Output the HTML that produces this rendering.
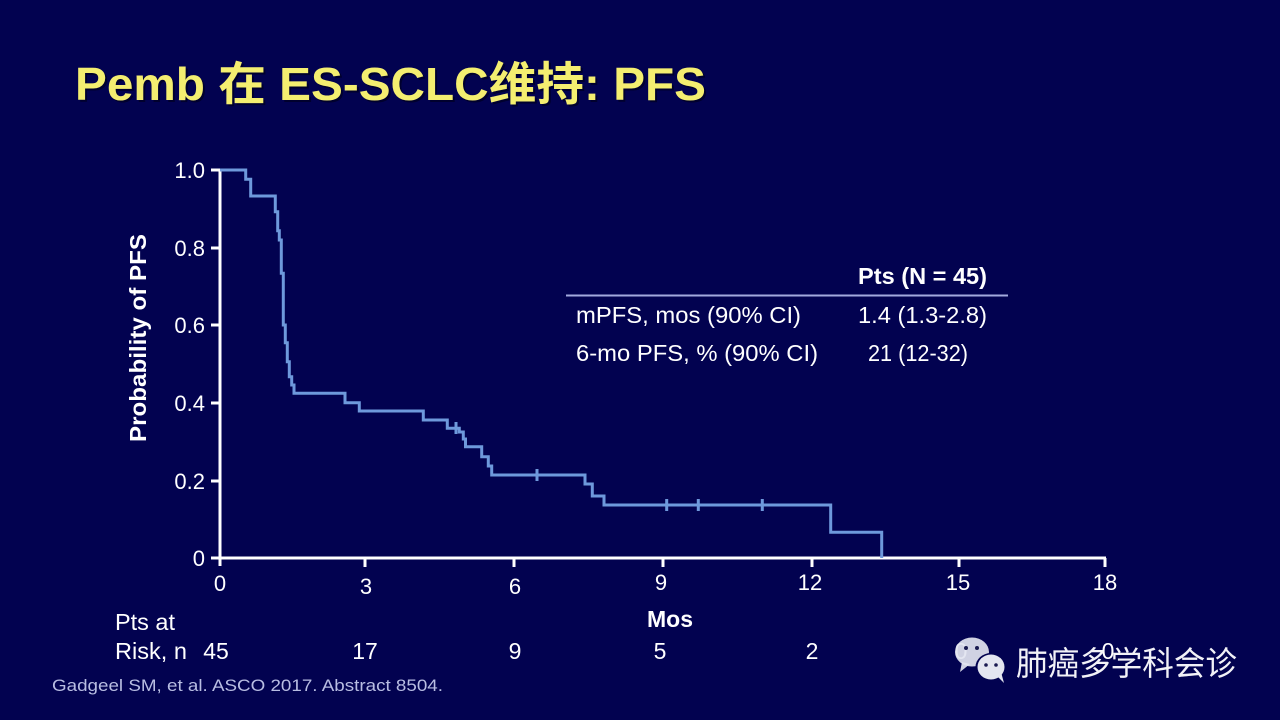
<!DOCTYPE html>
<html>
<head>
<meta charset="utf-8">
<style>
  html, body { margin:0; padding:0; background:#020250; }
  body { width:1280px; height:720px; overflow:hidden; }
  svg { display:block; }
  text { font-family: "Liberation Sans", "Noto Sans CJK SC", sans-serif; }
</style>
</head>
<body>
<svg width="1280" height="720" viewBox="0 0 1280 720" xmlns="http://www.w3.org/2000/svg">
  <rect x="0" y="0" width="1280" height="720" fill="#020250"/>

  <!-- Title -->
  <text x="77" y="102" font-size="46" font-weight="bold" fill="#000018" opacity="0.6" textLength="631" lengthAdjust="spacingAndGlyphs">Pemb 在 ES-SCLC维持: PFS</text>
  <text x="75" y="100" font-size="46" font-weight="bold" fill="#f4ee70" textLength="631" lengthAdjust="spacingAndGlyphs">Pemb 在 ES-SCLC维持: PFS</text>

  <!-- Y axis label -->
  <text transform="translate(146,442) rotate(-90)" font-size="23" font-weight="bold" fill="#ffffff" textLength="208" lengthAdjust="spacingAndGlyphs">Probability of PFS</text>

  <!-- Axes -->
  <g stroke="#ffffff" stroke-width="3" fill="none">
    <line x1="220" y1="169" x2="220" y2="566"/>
    <line x1="219" y1="558" x2="1106" y2="558"/>
    <line x1="211" y1="170" x2="220" y2="170"/>
    <line x1="211" y1="248" x2="220" y2="248"/>
    <line x1="211" y1="325" x2="220" y2="325"/>
    <line x1="211" y1="403" x2="220" y2="403"/>
    <line x1="211" y1="481" x2="220" y2="481"/>
    <line x1="211" y1="558" x2="220" y2="558"/>
    <line x1="365" y1="558" x2="365" y2="567"/>
    <line x1="514" y1="558" x2="514" y2="567"/>
    <line x1="663" y1="558" x2="663" y2="567"/>
    <line x1="812" y1="558" x2="812" y2="567"/>
    <line x1="959" y1="558" x2="959" y2="567"/>
    <line x1="1105" y1="558" x2="1105" y2="567"/>
  </g>

  <!-- Y tick labels -->
  <g font-size="22" fill="#ffffff" text-anchor="end">
    <text x="205" y="178">1.0</text>
    <text x="205" y="256">0.8</text>
    <text x="205" y="333">0.6</text>
    <text x="205" y="411">0.4</text>
    <text x="205" y="489">0.2</text>
    <text x="205" y="566">0</text>
  </g>

  <!-- X tick labels -->
  <g font-size="22" fill="#ffffff" text-anchor="middle">
    <text x="220" y="591">0</text>
    <text x="366" y="594">3</text>
    <text x="515" y="594">6</text>
    <text x="661" y="590">9</text>
    <text x="810" y="590">12</text>
    <text x="958" y="590">15</text>
    <text x="1105" y="590">18</text>
  </g>

  <!-- KM curve -->
  <path d="M220,170 H245.7 V179.3 H250.7 V196 H275.3 V211.7 H277.7 V230.7 H279.3 V240 H281.3 V273.3 H283.3 V325 H285.3 V342.7 H287.3 V361.7 H289.3 V376.7 H291.7 V385 H294 V393.3 H345 V402.7 H359.3 V411 H423.3 V420 H447.3 V428.3 H459.3 V432 H463.3 V439 H465.5 V446.7 H481.7 V456.7 H488.3 V466 H491.7 V475 H585 V484 H592.3 V496 H604 V505 H830.7 V532.3 H881.7 V558"
        fill="none" stroke="#6e99dc" stroke-width="3" stroke-linejoin="miter"/>
  <g stroke="#6e99dc" stroke-width="3">
    <line x1="456" y1="422" x2="456" y2="434"/>
    <line x1="537" y1="469" x2="537" y2="481"/>
    <line x1="666.7" y1="499" x2="666.7" y2="511"/>
    <line x1="698.3" y1="499" x2="698.3" y2="511"/>
    <line x1="762.3" y1="499" x2="762.3" y2="511"/>
  </g>

  <!-- Table -->
  <text x="858" y="284" font-size="23" font-weight="bold" fill="#ffffff" textLength="129" lengthAdjust="spacingAndGlyphs">Pts (N = 45)</text>
  <line x1="566" y1="295.5" x2="1008" y2="295.5" stroke="#a3aade" stroke-width="2"/>
  <text x="576" y="323" font-size="23" fill="#ffffff" textLength="225" lengthAdjust="spacingAndGlyphs">mPFS, mos (90% CI)</text>
  <text x="858" y="323" font-size="23" fill="#ffffff" textLength="129" lengthAdjust="spacingAndGlyphs">1.4 (1.3-2.8)</text>
  <text x="576" y="361" font-size="23" fill="#ffffff" textLength="242" lengthAdjust="spacingAndGlyphs">6-mo PFS, % (90% CI)</text>
  <text x="868" y="361" font-size="23" fill="#ffffff" textLength="100" lengthAdjust="spacingAndGlyphs">21 (12-32)</text>

  <!-- Mos / risk table -->
  <text x="670" y="627" font-size="23" font-weight="bold" fill="#ffffff" text-anchor="middle">Mos</text>
  <text x="115" y="630" font-size="23" fill="#ffffff" textLength="60" lengthAdjust="spacingAndGlyphs">Pts at</text>
  <text x="115" y="659" font-size="23" fill="#ffffff" textLength="72" lengthAdjust="spacingAndGlyphs">Risk, n</text>
  <g font-size="23" fill="#ffffff" text-anchor="middle">
    <text x="216" y="659">45</text>
    <text x="365" y="659">17</text>
    <text x="515" y="659">9</text>
    <text x="660" y="659">5</text>
    <text x="812" y="659">2</text>
    <text x="961" y="659">0</text>
    <text x="1108" y="659">0</text>
  </g>

  <!-- Footer -->
  <text x="52" y="691" font-size="17" fill="#b8bde2" textLength="391" lengthAdjust="spacingAndGlyphs">Gadgeel SM, et al. ASCO 2017. Abstract 8504.</text>

  <!-- Watermark logo -->
  <g>
    <ellipse cx="972" cy="652" rx="17" ry="14.5" fill="#e2e4f0" opacity="0.92"/>
    <polygon points="962,662 960,672 970,664" fill="#e2e4f0" opacity="0.92"/>
    <ellipse cx="991" cy="667" rx="15.5" ry="14" fill="#020250"/>
    <ellipse cx="991" cy="667" rx="13.5" ry="12.5" fill="#e4e6f0"/>
    <polygon points="997,676 1004,683 1001,672" fill="#e4e6f0"/>
    <circle cx="966" cy="648" r="2" fill="#1a1a50"/>
    <circle cx="977" cy="648" r="2" fill="#1a1a50"/>
    <circle cx="986" cy="665" r="1.8" fill="#1a1a50"/>
    <circle cx="996" cy="665" r="1.8" fill="#1a1a50"/>
  </g>
  <text x="1016" y="675" font-size="33" fill="#f2f2f7" textLength="221" lengthAdjust="spacingAndGlyphs" font-family="'Noto Sans CJK SC', sans-serif">肺癌多学科会诊</text>
</svg>
</body>
</html>
